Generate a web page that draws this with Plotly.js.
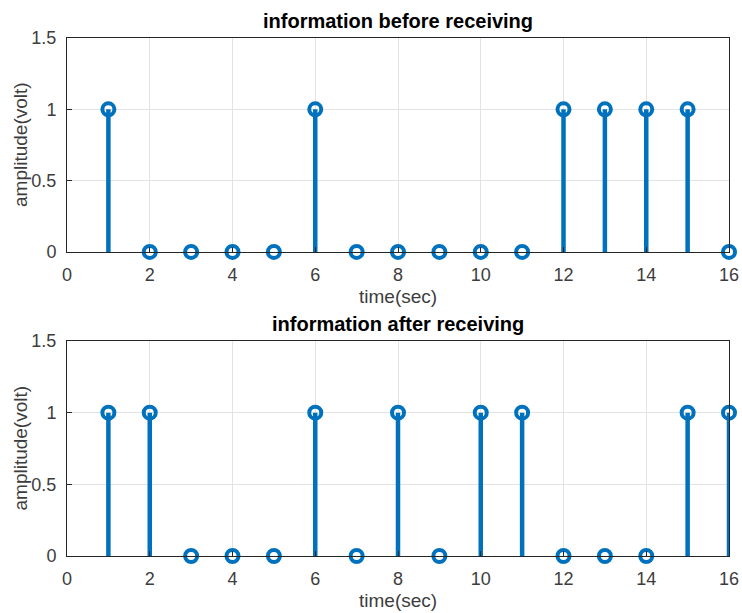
<!DOCTYPE html>
<html>
<head>
<meta charset="utf-8">
<script src="https://cdn.plot.ly/plotly-3.0.1.min.js"></script>
<style>html,body{margin:0;padding:0;background:#fff;}#chart{width:742px;height:613px;}</style>
</head>
<body>
<div id="chart"></div>
<script>
const timeSec = [1,2,3,4,5,6,7,8,9,10,11,12,13,14,15,16];
const beforeReceiving = [1,0,0,0,0,1,0,0,0,0,0,1,1,1,1,0];
const afterReceiving  = [1,1,0,0,0,1,0,1,0,1,1,0,0,0,1,1];
const xTicks = [0,2,4,6,8,10,12,14,16];
const yTicks = [0,0.5,1,1.5];
const yTickText = ['0','0.5','1','1.5'];
const titles = ['information before receiving','information after receiving'];
const xLabel = 'time(sec)';
const yLabel = 'amplitude(volt)';

const blue = '#0072BD';
const FONT = 'Liberation Sans, Arial, sans-serif';

function stemTraces(xs, ys, xa, ya) {
  const sx = [], sy = [];
  xs.forEach((x, i) => { sx.push(x, x, null); sy.push(0, ys[i], null); });
  return [
    {x: sx, y: sy, xaxis: xa, yaxis: ya, type: 'scatter', mode: 'lines',
     line: {color: blue, width: 4.5}, hoverinfo: 'skip', showlegend: false, cliponaxis: false},
    {x: xs, y: ys, xaxis: xa, yaxis: ya, type: 'scatter', mode: 'markers',
     marker: {symbol: 'circle-open', size: 12, color: blue, line: {color: blue, width: 4}},
     showlegend: false, cliponaxis: false}
  ];
}

const data = [
  ...stemTraces(timeSec, beforeReceiving, 'x', 'y'),
  ...stemTraces(timeSec, afterReceiving, 'x2', 'y2')
];

const tickFont = {family: FONT, size: 18, color: '#3d3d3d'};
function xax(anchor) {
  return {range: [0, 16], tickvals: xTicks, ticktext: xTicks.map(String), anchor: anchor,
    showgrid: true, gridcolor: '#e3e3e3', gridwidth: 1, zeroline: false,
    showline: true, linecolor: '#262626', linewidth: 1, mirror: true,
    ticks: 'inside', ticklen: 5, tickcolor: '#262626', tickfont: tickFont, ticklabelstandoff: 6};
}
function yax(anchor, dom) {
  return {range: [0, 1.5], domain: dom, tickvals: yTicks, ticktext: yTickText, anchor: anchor,
    showgrid: true, gridcolor: '#e3e3e3', gridwidth: 1, zeroline: false,
    showline: true, linecolor: '#262626', linewidth: 1, mirror: true,
    ticks: 'inside', ticklen: 5, tickcolor: '#262626', tickfont: tickFont, ticklabelstandoff: 6};
}

const layout = {
  width: 742, height: 613,
  margin: {l: 67, r: 13, t: 38, b: 57},
  paper_bgcolor: '#fff', plot_bgcolor: '#fff',
  xaxis: xax('y'),
  yaxis: yax('x', [0.587, 1]),
  xaxis2: xax('y2'),
  yaxis2: yax('x2', [0, 0.415]),
  annotations: [
    {text: '<b>' + titles[0] + '</b>', xref: 'paper', yref: 'paper', x: 0.5, y: 1, yshift: 4,
     xanchor: 'center', yanchor: 'bottom', showarrow: false,
     font: {family: FONT, size: 20, color: '#000'}},
    {text: '<b>' + titles[1] + '</b>', xref: 'paper', yref: 'paper', x: 0.5, y: 0.415, yshift: 4,
     xanchor: 'center', yanchor: 'bottom', showarrow: false,
     font: {family: FONT, size: 20, color: '#000'}},
    {text: xLabel, xref: 'paper', yref: 'paper', x: 0.5, y: 0.587, yshift: -32,
     xanchor: 'center', yanchor: 'top', showarrow: false,
     font: {family: FONT, size: 19, color: '#3d3d3d'}},
    {text: xLabel, xref: 'paper', yref: 'paper', x: 0.5, y: 0, yshift: -32,
     xanchor: 'center', yanchor: 'top', showarrow: false,
     font: {family: FONT, size: 19, color: '#3d3d3d'}},
    {text: yLabel, xref: 'paper', yref: 'paper', x: 0, xshift: -46, y: 0.7935, textangle: -90,
     xanchor: 'center', yanchor: 'middle', showarrow: false,
     font: {family: FONT, size: 19, color: '#3d3d3d'}},
    {text: yLabel, xref: 'paper', yref: 'paper', x: 0, xshift: -46, y: 0.2075, textangle: -90,
     xanchor: 'center', yanchor: 'middle', showarrow: false,
     font: {family: FONT, size: 19, color: '#3d3d3d'}}
  ]
};

Plotly.newPlot('chart', data, layout, {displayModeBar: false, staticPlot: true});
</script>
</body>
</html>
